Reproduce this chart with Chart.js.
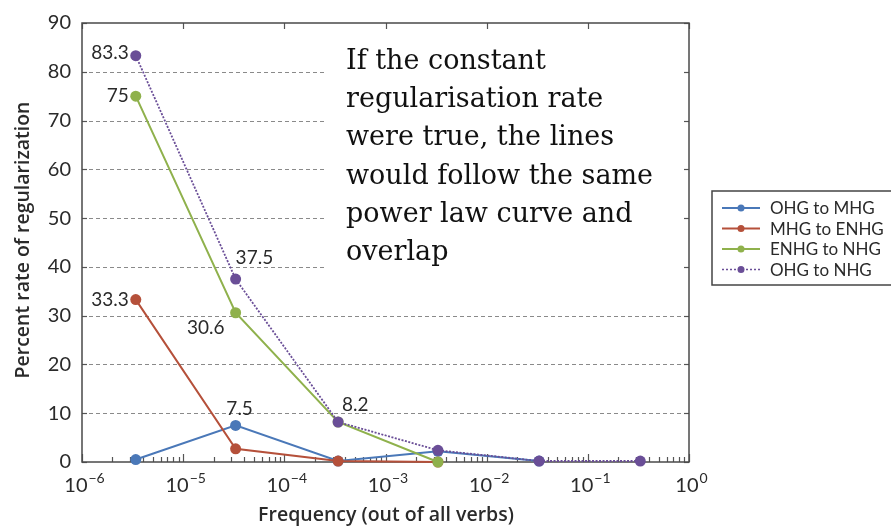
<!DOCTYPE html>
<html>
<head>
<meta charset="utf-8">
<script src="https://cdn.jsdelivr.net/npm/chart.js@4.4.1/dist/chart.umd.min.js"></script>
<style>
  html, body { margin: 0; padding: 0; background: #fff; }
  #wrap { width: 891px; height: 528px; position: relative; }
</style>
</head>
<body>
<div id="wrap"><canvas id="chart" width="891" height="528"></canvas></div>
<script>
// frequency bins (out of all verbs)
const freq = [3.4e-6, 3.3e-5, 3.4e-4, 3.3e-3, 3.3e-2, 3.3e-1];

const ohgToMhg  = [0.5, 7.5, 0.2, 2.2, 0.2];
const mhgToEnhg = [33.3, 2.7, 0.2, 0];
const enhgToNhg = [75, 30.6, 8.2, 0];
const ohgToNhg  = [83.3, 37.5, 8.2, 2.4, 0.2, 0.2];

const seriesNames = ["OHG to MHG", "MHG to ENHG", "ENHG to NHG", "OHG to NHG"];
const xDecades = [-6, -5, -4, -3, -2, -1, 0];
const yTicks = [0, 10, 20, 30, 40, 50, 60, 70, 80, 90];

// value labels written next to points: [series, point, text]
const pointLabels = [
  [3, 0, "83.3"], [2, 0, "75"], [1, 0, "33.3"],
  [3, 1, "37.5"], [2, 1, "30.6"], [0, 1, "7.5"], [3, 2, "8.2"]
];

const note = ["If the constant", "regularisation rate", "were true, the lines",
              "would follow the same", "power law curve and", "overlap"];

const colors = ["#4a78b8", "#b5503a", "#8fb14c", "#6a4e97"];
const sansFont = "Lato, 'Open Sans', sans-serif";

function pts(vals) {
  return vals.map((v, i) => ({ x: freq[i], y: v }));
}

const datasets = [ohgToMhg, mhgToEnhg, enhgToNhg, ohgToNhg].map((vals, k) => ({
  label: seriesNames[k],
  data: pts(vals),
  borderColor: colors[k],
  backgroundColor: colors[k],
  borderWidth: k === 3 ? 1.8 : 2,
  borderDash: k === 3 ? [2, 1.5] : [],
  pointRadius: 5.5,
  pointHoverRadius: 5.5,
  pointBorderWidth: 0,
  tension: 0
}));
// draw order: purple on top like the original
datasets.forEach((d, k) => d.order = 4 - k);

// offsets for the value labels (style only)
const labelPlace = {
  "83.3": [-7, -3, "right"], "75": [-7, 0, "right"], "33.3": [-7, 0, "right"],
  "37.5": [0, -21, "left"], "30.6": [-11, 15, "right"], "7.5": [4, -17, "center"],
  "8.2": [4, -17, "left"]
};

const framePlugin = {
  id: "frame",
  beforeDatasetsDraw(chart) {
    const { ctx, chartArea: a, scales } = chart;
    const y = scales.y, x = scales.x;
    ctx.save();
    // dashed horizontal grid
    ctx.strokeStyle = "#8a8a8a";
    ctx.lineWidth = 1;
    ctx.setLineDash([4, 3]);
    yTicks.slice(1, -1).forEach(v => {
      const py = Math.round(y.getPixelForValue(v)) + 0.5;
      ctx.beginPath(); ctx.moveTo(a.left, py); ctx.lineTo(a.right, py); ctx.stroke();
    });
    ctx.setLineDash([]);
    // white box behind the note
    ctx.fillStyle = "#fff";
    ctx.fillRect(326, a.top + 3, a.right - 329, 288 - a.top);
    // y tick marks inward on both sides
    ctx.strokeStyle = "#555";
    ctx.lineWidth = 1.2;
    yTicks.forEach(v => {
      const py = Math.round(y.getPixelForValue(v)) + 0.5;
      ctx.beginPath(); ctx.moveTo(a.left, py); ctx.lineTo(a.left + 5, py); ctx.stroke();
      ctx.beginPath(); ctx.moveTo(a.right, py); ctx.lineTo(a.right - 5, py); ctx.stroke();
    });
    // x tick marks (major and minor) inward
    xDecades.forEach(e => {
      const px = Math.round(x.getPixelForValue(Math.pow(10, e))) + 0.5;
      ctx.beginPath(); ctx.moveTo(px, a.bottom); ctx.lineTo(px, a.bottom - 8); ctx.stroke();
      ctx.beginPath(); ctx.moveTo(px, a.top); ctx.lineTo(px, a.top + 6); ctx.stroke();
      if (e < 0) {
        for (let m = 2; m <= 9; m++) {
          const mx = Math.round(x.getPixelForValue(m * Math.pow(10, e))) + 0.5;
          ctx.beginPath(); ctx.moveTo(mx, a.bottom); ctx.lineTo(mx, a.bottom - 5); ctx.stroke();
        }
      }
    });
    // frame
    ctx.strokeStyle = "#4a4a4a";
    ctx.lineWidth = 1.5;
    ctx.strokeRect(a.left, a.top, a.right - a.left, a.bottom - a.top);
    ctx.restore();
  },
  afterDatasetsDraw(chart) {
    const { ctx, chartArea: a, scales } = chart;
    const x = scales.x;
    ctx.save();
    // x tick labels with superscripts
    ctx.fillStyle = "#2a2a2a";
    ctx.textBaseline = "alphabetic";
    xDecades.forEach(e => {
      const px = x.getPixelForValue(Math.pow(10, e));
      const sup = e < 0 ? "\u2212" + Math.abs(e) : String(e);
      ctx.font = "20px " + sansFont;
      const w1 = ctx.measureText("10").width;
      ctx.font = "14px " + sansFont;
      const w2 = ctx.measureText(sup).width;
      const left = px + 2 - (w1 + w2) / 2;
      ctx.font = "20px " + sansFont;
      ctx.textAlign = "left";
      ctx.fillText("10", left, 492);
      ctx.font = "14px " + sansFont;
      ctx.fillText(sup, left + w1 + 1, 483);
    });
    // axis titles
    ctx.font = "600 19.5px 'Open Sans', " + sansFont;
    ctx.textAlign = "center";
    ctx.fillText("Frequency (out of all verbs)", 386, 521);
    ctx.save();
    ctx.translate(29, 240);
    ctx.rotate(-Math.PI / 2);
    ctx.fillText("Percent rate of regularization", 0, 0);
    ctx.restore();
    // value labels
    ctx.font = "19px " + sansFont;
    ctx.fillStyle = "#2a2a2a";
    ctx.textBaseline = "middle";
    pointLabels.forEach(([s, i, t]) => {
      const el = chart.getDatasetMeta(s).data[i];
      const [dx, dy, al] = labelPlace[t];
      ctx.textAlign = al;
      ctx.fillText(t, el.x + dx, el.y + dy);
    });
    // note text
    ctx.font = "27px 'DejaVu Serif', 'Liberation Serif', serif";
    ctx.fillStyle = "#111";
    ctx.textAlign = "left";
    ctx.textBaseline = "alphabetic";
    note.forEach((line, k) => ctx.fillText(line, 346, 69 + k * 38.2));
    // legend box
    ctx.strokeStyle = "#444";
    ctx.lineWidth = 1.5;
    ctx.strokeRect(712, 191, 185, 94);
    ctx.font = "17px " + sansFont;
    ctx.textBaseline = "middle";
    seriesNames.forEach((name, k) => {
      const ly = 208 + k * 20.5;
      ctx.strokeStyle = colors[k];
      ctx.lineWidth = k === 3 ? 1.5 : 1.8;
      ctx.setLineDash(k === 3 ? [2, 2] : []);
      ctx.beginPath(); ctx.moveTo(722, ly); ctx.lineTo(760, ly); ctx.stroke();
      ctx.setLineDash([]);
      ctx.fillStyle = colors[k];
      ctx.beginPath(); ctx.arc(741, ly, 3.5, 0, Math.PI * 2); ctx.fill();
      ctx.fillStyle = "#2a2a2a";
      ctx.textAlign = "left";
      ctx.fillText(name, 770, ly + 1);
    });
    ctx.restore();
  }
};

new Chart(document.getElementById("chart"), {
  type: "line",
  data: { datasets },
  options: {
    responsive: false,
    animation: false,
    events: [],
    clip: false,
    layout: { padding: { left: 0, right: 202, top: 20, bottom: 0 } },
    plugins: { legend: { display: false }, tooltip: { enabled: false } },
    scales: {
      x: {
        type: "logarithmic",
        min: 1e-6,
        max: 1,
        grid: { display: false, drawTicks: false },
        border: { display: false },
        ticks: { display: false },
        afterFit(s) { s.height = 66; }
      },
      y: {
        min: 0,
        max: 90,
        grid: { display: false, drawTicks: false },
        border: { display: false },
        ticks: { stepSize: 10, padding: 11, color: "#2a2a2a", font: { size: 20, family: sansFont } },
        afterFit(s) { s.width = 82; }
      }
    }
  },
  plugins: [framePlugin]
});
</script>
</body>
</html>
